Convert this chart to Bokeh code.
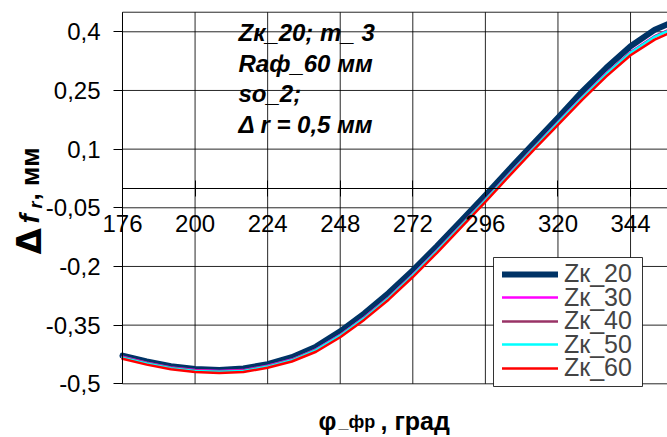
from math import pi
from bokeh.plotting import figure
from bokeh.models import (FixedTicker, Label, Legend, LegendItem, Range1d, BoxAnnotation)
from bokeh.embed import file_html
from bokeh.resources import INLINE

# ---- data ----
angles = [176, 184, 192, 200, 208, 216, 224, 232, 240, 248, 256, 264, 272, 280,
          288, 296, 304, 312, 320, 328, 336, 344, 352, 360]
zk20 = [-0.428, -0.443, -0.455, -0.462, -0.4645, -0.461, -0.450, -0.432, -0.405, -0.366,
        -0.320, -0.268, -0.210, -0.148, -0.083, -0.018, 0.049, 0.115, 0.180, 0.247,
        0.308, 0.363, 0.405, 0.432]
zk30 = [-0.431, -0.446, -0.458, -0.465, -0.4675, -0.465, -0.454, -0.438, -0.412, -0.375,
        -0.330, -0.279, -0.221, -0.159, -0.094, -0.029, 0.038, 0.104, 0.169, 0.233,
        0.294, 0.348, 0.389, 0.417]
zk40 = [-0.432, -0.447, -0.459, -0.466, -0.4685, -0.466, -0.455, -0.439, -0.413, -0.376,
        -0.331, -0.280, -0.222, -0.160, -0.095, -0.030, 0.037, 0.103, 0.168, 0.232,
        0.293, 0.347, 0.388, 0.416]
zk50 = [-0.433, -0.448, -0.460, -0.467, -0.4695, -0.467, -0.456, -0.440, -0.414, -0.377,
        -0.332, -0.281, -0.223, -0.161, -0.096, -0.031, 0.036, 0.102, 0.167, 0.231,
        0.292, 0.346, 0.387, 0.415]
zk60 = [-0.436, -0.451, -0.463, -0.470, -0.4725, -0.470, -0.459, -0.443, -0.418, -0.381,
        -0.336, -0.285, -0.227, -0.165, -0.100, -0.035, 0.032, 0.098, 0.162, 0.226,
        0.286, 0.340, 0.380, 0.408]

series_names = ["Zк_20", "Zк_30", "Zк_40", "Zк_50", "Zк_60"]
series_colors = ["#003366", "#FF00FF", "#993366", "#00FFFF", "#FF0000"]
series_widths = [6, 2.5, 2.5, 2.5, 2.5]

x_ticks = [176, 200, 224, 248, 272, 296, 320, 344]
y_ticks = [-0.5, -0.35, -0.2, -0.05, 0.1, 0.25, 0.4]
y_tick_labels = ["-0,5", "-0,35", "-0,2", "-0,05", "0,1", "0,25", "0,4"]
x_min, x_max, y_min, y_max = 176, 400, -0.5, 0.45

note_lines = ["Zк_20; m_ 3", "Raф_60 мм", "so_2;", "Δ r = 0,5 мм"]

FONT = "Liberation Sans"
W, H = 667, 437

p = figure(width=W, height=H, output_backend="svg", toolbar_location=None,
           x_range=Range1d(135.66, 356.22), y_range=Range1d(-0.6373, 0.48),
           min_border=0)
p.outline_line_color = None
p.background_fill_color = "white"
p.border_fill_color = "white"
p.xgrid.grid_line_color = None
p.ygrid.grid_line_color = None

# grid lines of the plot area (from the tick lists)
p.segment(x0=x_ticks, y0=[y_min] * len(x_ticks), x1=x_ticks, y1=[y_max] * len(x_ticks),
          line_color="black", line_width=1, line_alpha=0.85)
h_levels = y_ticks + [y_max]
p.segment(x0=[x_min] * len(h_levels), y0=h_levels, x1=[x_max] * len(h_levels), y1=h_levels,
          line_color="black", line_width=1, line_alpha=0.85)

# axes (placed inside the frame)
p.xaxis.ticker = FixedTicker(ticks=x_ticks)
p.xaxis.fixed_location = 0
p.xaxis.bounds = (x_min, x_max)
p.xaxis.major_tick_in = 8
p.xaxis.major_tick_out = 8
p.xaxis.minor_tick_line_color = None
p.xaxis.major_label_standoff = 19
p.xaxis.major_label_text_font = FONT
p.xaxis.major_label_text_font_size = "24px"
p.xaxis.major_label_text_color = "black"
p.xaxis.axis_line_color = "black"
p.xaxis.major_tick_line_color = "black"

p.yaxis.ticker = FixedTicker(ticks=y_ticks)
p.yaxis.major_label_overrides = {t: s for t, s in zip(y_ticks, y_tick_labels)}
p.yaxis.fixed_location = x_min
p.yaxis.bounds = (y_min, y_max)
p.yaxis.major_tick_in = 0
p.yaxis.major_tick_out = 9
p.yaxis.minor_tick_line_color = None
p.yaxis.major_label_standoff = 13
p.yaxis.major_label_text_font = FONT
p.yaxis.major_label_text_font_size = "24px"
p.yaxis.major_label_text_color = "black"
p.yaxis.axis_line_color = "black"
p.yaxis.major_tick_line_color = "black"

# series
series = [zk20, zk30, zk40, zk50, zk60]
renderers = []
for vals, col, w in zip(series, series_colors, series_widths):
    r = p.line(angles, vals, line_color=col, line_width=w, line_join="round", line_cap="round")
    renderers.append(r)

# legend: box + one row per series
p.add_layout(BoxAnnotation(left=493, right=642, bottom=H - 386, top=H - 257,
                           left_units="screen", right_units="screen",
                           top_units="screen", bottom_units="screen",
                           fill_color="white", fill_alpha=1,
                           line_color="black", line_width=1, line_alpha=0.8))
row_centers = [274, 297.5, 321, 344.5, 368]
for name, r, c in zip(series_names, renderers, row_centers):
    p.add_layout(Legend(items=[LegendItem(label=name, renderers=[r])],
                        location=(502, H - c - 14), orientation="vertical",
                        label_text_font=FONT, label_text_font_size="25px",
                        label_height=28, glyph_height=28, glyph_width=56, spacing=0,
                        padding=0, margin=0, label_standoff=6,
                        border_line_color=None, background_fill_alpha=0))

def lab(x, y, text, size, style, angle=0.0, font=FONT):
    p.add_layout(Label(x=x, y=H - y, x_units="screen", y_units="screen", text=text,
                       text_font=font, text_font_size=size, text_font_style=style,
                       text_baseline="alphabetic", text_align="left", angle=angle,
                       text_color="black"))

# note block
for txt, base in zip(note_lines, [32, 62.5, 93, 124]):
    lab(238, base, txt, "24px", "bold italic")

# y axis title (pieces, rotated)
lab(28, 254, "Δ", "34px", "bold", pi / 2, "DejaVu Sans")
lab(29, 223, "f", "28px", "bold italic", pi / 2)
lab(35, 208, "r", "18px", "bold italic", pi / 2)
lab(29, 200, ", мм", "26px", "bold", pi / 2)

# x axis title (pieces)
lab(318, 420, "φ", "25px", "bold")
lab(338, 421.5, "_фр", "18px", "bold")
lab(380, 420, ", град", "25px", "bold")

open("out.html", "w").write(file_html(p, INLINE))
